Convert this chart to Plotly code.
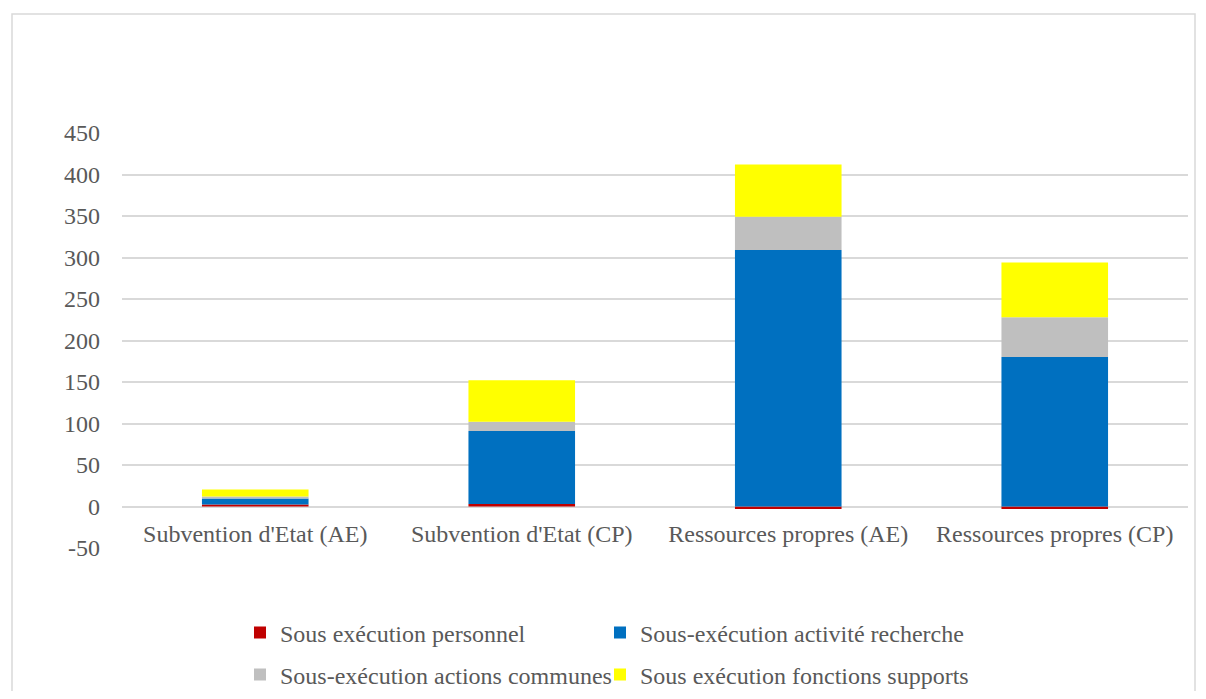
import plotly.graph_objects as go

categories = ["Subvention d'Etat (AE)", "Subvention d'Etat (CP)", "Ressources propres (AE)", "Ressources propres (CP)"]
series_names = ["Sous exécution personnel", "Sous-exécution activité recherche",
                "Sous-exécution actions communes", "Sous exécution fonctions supports"]
personnel = [2.5, 3, -3, -3]
recherche = [7, 88, 309, 180]
communes = [2.5, 11, 40, 48]
supports = [8.5, 50, 63, 66]
colors = ["#C00000", "#0070C0", "#BFBFBF", "#FFFF00"]
y_ticks = [-50, 0, 50, 100, 150, 200, 250, 300, 350, 400, 450]
y_tick_text = ["-50", "0", "50", "100", "150", "200", "250", "300", "350", "400", "450"]

# page body has an 8px margin; work in page coordinates and convert
OFF = 8
W, H = 1206 - 2 * OFF, 699 - 2 * OFF
plot_left, plot_right, plot_top, plot_bottom = 122, 1188, 133, 548  # page px
ml = plot_left - OFF
mr = (W + OFF) - plot_right
mt = plot_top - OFF
mb = (H + OFF) - plot_bottom
ymin, ymax = -50, 450
pw = W - ml - mr
ph = H - mt - mb

def px_x(p):
    return (p - OFF - ml) / pw

def px_y(p):
    return (H - mb - (p - OFF)) / ph

legend_ids = ["legend", "legend2", "legend3", "legend4"]
legend_pos = [(240, 633), (600, 633), (240, 675), (600, 675)]  # page px

fig = go.Figure()
for name, vals, col, lg in zip(series_names, [personnel, recherche, communes, supports], colors, legend_ids):
    fig.add_trace(go.Bar(x=categories, y=vals, name=name, legend=lg,
                         marker=dict(color=col, line=dict(width=0))))

font_family = "Liberation Serif, Times New Roman, serif"
fsize = 24
pos0 = (0 - ymin) / (ymax - ymin)

leg_common = dict(orientation="h", xanchor="left", yanchor="middle",
                  font=dict(family=font_family, size=fsize, color="#595959"),
                  itemwidth=30, bgcolor="rgba(0,0,0,0)")
legends = {lg: dict(x=px_x(lx), y=px_y(ly), **leg_common) for lg, (lx, ly) in zip(legend_ids, legend_pos)}

fig.update_layout(
    width=W, height=H,
    barmode="relative", bargap=0.6,
    paper_bgcolor="white", plot_bgcolor="white",
    margin=dict(l=ml, r=mr, t=mt, b=mb, autoexpand=False),
    font=dict(family=font_family, size=fsize, color="#595959"),
    xaxis=dict(anchor="free", position=pos0, showgrid=False, showline=False, ticks="",
               ticklabelstandoff=10, automargin=False,
               tickfont=dict(size=fsize, color="#595959")),
    yaxis=dict(range=[ymin, ymax], tickvals=y_ticks, ticktext=y_tick_text,
               showgrid=True, gridcolor="#D9D9D9", automargin=False,
               gridwidth=1.5, zeroline=True, zerolinecolor="#D9D9D9", zerolinewidth=1.5,
               showline=False, ticks="", ticklabelstandoff=21,
               tickfont=dict(size=fsize, color="#595959")),
    showlegend=True,
    **legends,
)

# outer chart border
fig.add_shape(type="rect", xref="paper", yref="paper",
              x0=px_x(12), x1=px_x(1195),
              y0=px_y(698), y1=px_y(14),
              line=dict(color="#D9D9D9", width=1.5), fillcolor="rgba(0,0,0,0)", layer="below")

fig.write_html("out.html")
